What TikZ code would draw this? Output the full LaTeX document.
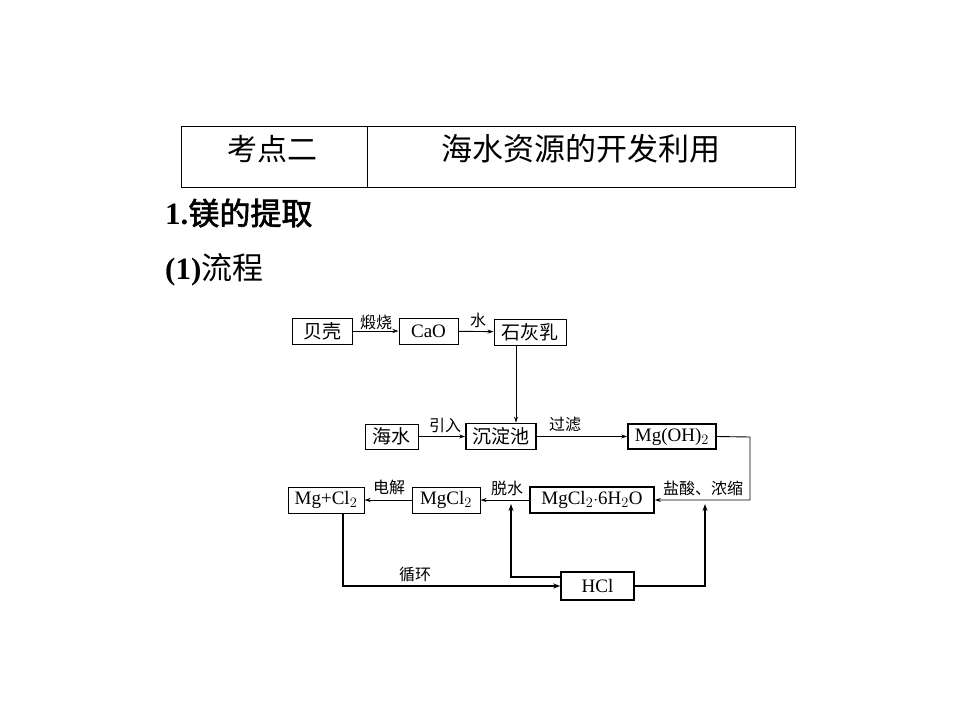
\documentclass[tikz,border=0pt]{standalone}
\usepackage{fontspec}
\setmainfont{Liberation Serif}
\newfontfamily\cjk[AutoFakeBold=2]{Noto Sans CJK SC}
\usetikzlibrary{arrows.meta}
\begin{document}
\begin{tikzpicture}[x=1pt,y=-1pt,
  thinbox/.style={draw,line width=1pt,minimum height=26pt,inner sep=0pt,font=\fontsize{19}{19}\selectfont},
  thickbox/.style={thinbox,line width=1.8pt},
  cjkbox/.style={font=\cjk\fontsize{19}{19}\selectfont},
  lbl/.style={font=\cjk\fontsize{16}{16}\selectfont,inner sep=0pt},
  conn/.style={line width=0.9pt,-{Stealth[length=6pt,width=4pt]}},
  bconn/.style={line width=1.8pt,-{Stealth[length=7pt,width=5pt]}}]
\useasboundingbox (0,0) rectangle (960,720);
% table
\draw[line width=1pt] (181,126) rectangle (795,187);
\draw[line width=1pt] (367,126) -- (367,187);
\node[font=\cjk\fontsize{30}{30}\selectfont] (t1) at (272,149) {考点二};
\node[font=\cjk\fontsize{31}{31}\selectfont] (t2) at (581,149) {海水资源的开发利用};
\node[anchor=west,inner sep=0pt] (h1) at (165,213) {\fontsize{31}{31}\selectfont\bfseries 1.{\cjk 镁的提取}};
\node[anchor=west,inner sep=0pt] (h2) at (165,270) {\fontsize{31}{31}\selectfont{\bfseries(1)}{\cjk 流程}};
% boxes
\node[thinbox,cjkbox,minimum width=60pt] (bk) at (322,331) {贝壳};
\node[thinbox,minimum width=59pt] (cao) at (428.5,331) {CaO};
\node[thinbox,cjkbox,minimum width=72pt] (shr) at (530,332) {石灰乳};
\node[thinbox,cjkbox,minimum width=53pt,minimum height=25pt] (hs) at (391.5,436.5) {海水};
\node[thickbox,cjkbox,minimum width=70pt] (cdc) at (501,436.5) {沉淀池};
\node[thickbox,minimum width=88pt,minimum height=25pt] (moh) at (672,436.5) {Mg(OH)$_2$};
\node[thickbox,minimum width=124pt] (mcw) at (592,500) {MgCl$_2$$\cdot$6H$_2$O};
\node[thinbox,minimum width=68pt] (mc) at (446,500) {MgCl$_2$};
\node[thinbox,minimum width=76pt] (mgcl) at (326,500) {Mg+Cl$_2$};
\node[thinbox,line width=1.4pt,minimum width=73pt,minimum height=28pt] (hcl) at (597.5,586) {HCl};
% connectors
\draw[conn] (bk) -- (cao);
\node[lbl] (l1) at (376,322) {煅烧};
\draw[conn] (cao) -- (shr);
\node[lbl] (l2) at (478,320) {水};
\draw[conn] (shr.south -| 516,0) -- (cdc.north -| 516,0);
\draw[conn] (hs) -- (cdc);
\node[lbl] (l3) at (445,425) {引入};
\draw[conn] (cdc) -- (moh);
\node[lbl] (l4) at (565,424) {过滤};
\coordinate (c1) at (750,437);
\coordinate (c2) at (750,500);
\draw[conn] (moh.east) -- (c1) -- (c2) -- (mcw.east);
\node[lbl] (l5) at (703,488) {盐酸、浓缩};
\draw[conn] (mcw) -- (mc);
\node[lbl] (l6) at (507,488) {脱水};
\draw[conn] (mc) -- (mgcl);
\node[lbl] (l7) at (389,487) {电解};
\coordinate (c3) at (343,586);
\draw[bconn] (mgcl.south -| c3) -- (c3) -- (hcl.west);
\node[lbl] (l8) at (415,574) {循环};
\coordinate (c4) at (511,577);
\coordinate (c5) at (511,504);
\draw[bconn] (hcl.west |- c4) -- (c4) -- (c5);
\coordinate (c6) at (705,586);
\coordinate (c7) at (705,504);
\draw[bconn] (hcl.east) -- (c6) -- (c7);
\end{tikzpicture}
\end{document}
